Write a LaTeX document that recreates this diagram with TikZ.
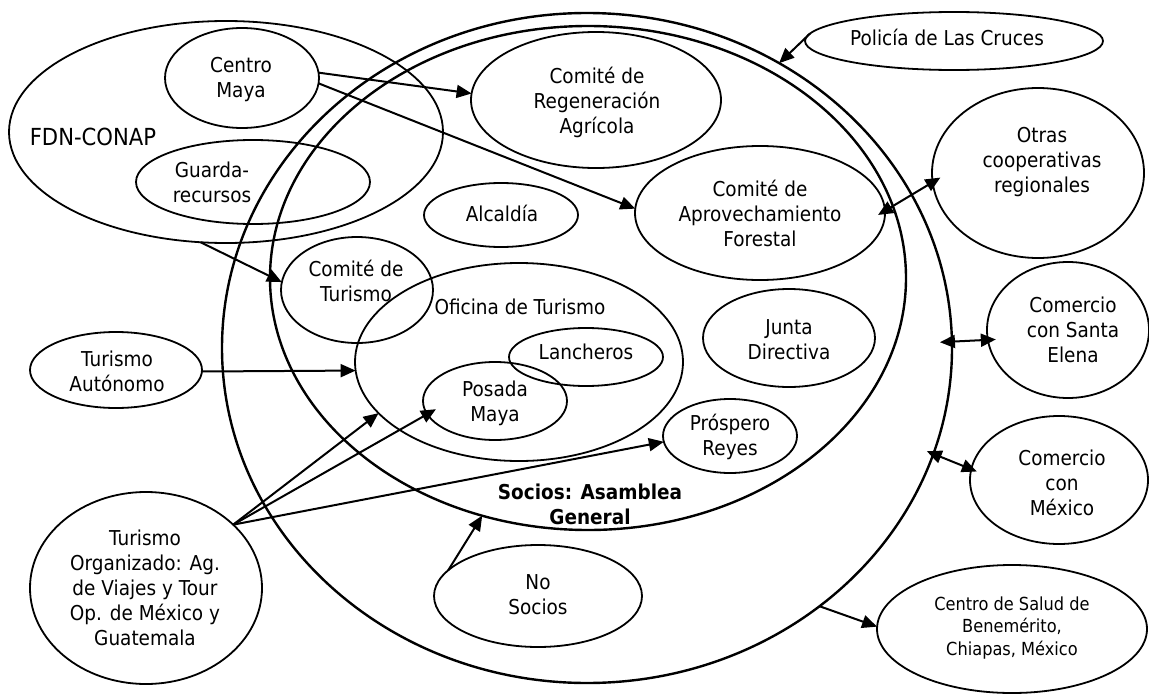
\documentclass[tikz,border=0pt]{standalone}
\usepackage{fontspec}
\setmainfont{DejaVu Sans}[FakeStretch=0.9]
\usetikzlibrary{shapes.geometric,arrows.meta}
\begin{document}
\begin{tikzpicture}[x=1pt,y=-1pt,
  ell/.style={draw,ellipse,line width=1.8pt,inner sep=0pt,outer sep=0pt},
  big/.style={draw,ellipse,line width=2.4pt,inner sep=0pt,outer sep=0pt},
  txt/.style={align=center,inner sep=0pt,font=\fontsize{20.5}{25}\selectfont},
  smalltxt/.style={align=center,inner sep=0pt,font=\fontsize{18}{22.5}\selectfont},
  largetxt/.style={align=center,inner sep=0pt,font=\fontsize{23.5}{28}\selectfont},
  arr/.style={-{Triangle[length=15pt,width=13pt]},line width=2pt},
  darr/.style={{Triangle[length=15pt,width=13pt]}-{Triangle[length=15pt,width=13pt]},line width=2pt}]
\useasboundingbox (0,0) rectangle (1149,696);

% ellipses
\node[big,minimum width=730pt,minimum height=670pt] (outer) at (587,348) {};
\node[big,minimum width=636pt,minimum height=504pt] (inner) at (588,278) {};
\node[ell,minimum width=434pt,minimum height=222pt] (fdn) at (226,132) {};
\node[ell,minimum width=154pt,minimum height=100pt] (cm) at (242,78) {};
\node[ell,minimum width=234pt,minimum height=84pt] (gr) at (253,182) {};
\node[ell,minimum width=250pt,minimum height=136pt] (reg) at (596,100) {};
\node[ell,minimum width=250pt,minimum height=134pt] (apr) at (760,213) {};
\node[ell,minimum width=154pt,minimum height=64pt] (alc) at (501,215) {};
\node[ell,minimum width=298pt,minimum height=58pt] (pol) at (954,41) {};
\node[ell,minimum width=212pt,minimum height=170pt] (otr) at (1038,173) {};
\node[ell,minimum width=162pt,minimum height=136pt] (cse) at (1068,330) {};
\node[ell,minimum width=178pt,minimum height=128pt] (cmx) at (1059,480) {};
\node[ell,minimum width=270pt,minimum height=128pt] (csal) at (1012,629) {};
\node[ell,minimum width=232pt,minimum height=192pt] (torg) at (146,588) {};
\node[ell,minimum width=172pt,minimum height=76pt] (taut) at (116,370) {};
\node[ell,minimum width=152pt,minimum height=106pt] (ctur) at (357,290) {};
\node[ell,minimum width=328pt,minimum height=198pt] (ofi) at (519,362) {};
\node[ell,minimum width=154pt,minimum height=58pt] (lan) at (586,357) {};
\node[ell,minimum width=144pt,minimum height=78pt] (pos) at (495,401) {};
\node[ell,minimum width=172pt,minimum height=98pt] (jd) at (789,338) {};
\node[ell,minimum width=134pt,minimum height=74pt] (pr) at (730,436) {};
\node[ell,minimum width=208pt,minimum height=102pt] (ns) at (538,596) {};

% texts
\node[largetxt] (tfdn) at (93,137) {FDN-CONAP};
\node[txt] (tcm) at (241,80) {Centro\\Maya};
\node[txt] (tgr) at (212,182) {Guarda-\\recursos};
\node[txt] (treg) at (597,102) {Comité de\\Regeneración\\Agrícola};
\node[txt] (tapr) at (760,213) {Comité de\\Aprovechamiento\\Forestal};
\node[txt] (talc) at (502,213) {Alcaldía};
\node[txt] (tpol) at (947,37) {Policía de Las Cruces};
\node[txt] (totr) at (1042,162) {Otras\\cooperativas\\regionales};
\node[txt] (tcse) at (1073,330) {Comercio\\con Santa\\Elena};
\node[txt] (tcmx) at (1062,483) {Comercio\\con\\México};
\node[smalltxt] (tcsal) at (1012,628) {Centro de Salud de\\Benemérito,\\Chiapas, México};
\node[txt] (ttorg) at (145,588) {Turismo\\Organizado: Ag.\\de Viajes y Tour\\Op. de México y\\Guatemala};
\node[txt] (ttaut) at (117,371) {Turismo\\Autónomo};
\node[txt] (tctur) at (356,281) {Comité de\\Turismo};
\node[txt] (tofi) at (520,307) {Oficina de Turismo};
\node[txt] (tlan) at (586,352) {Lancheros};
\node[txt] (tpos) at (495,403) {Posada\\Maya};
\node[txt] (tjd) at (789,340) {Junta\\Directiva};
\node[txt] (tpr) at (730,437) {Próspero\\Reyes};
\node[txt,font=\fontsize{20.5}{25}\selectfont\bfseries] (tsoc) at (590,504) {Socios: Asamblea\\General};
\node[txt] (tns) at (538,595) {No\\Socios};

% connectors
\draw[arr] (cm.4) -- (reg.177.7);
\draw[arr] (cm.-4) -- (apr.178.6);
\draw[arr] (fdn.-103) -- (ctur.174);
\draw[arr] (taut.-1) -- (ofi.183.5);
\draw[arr] (torg.36) -- (ofi.200);
\draw[arr,shorten >=-10pt] (torg.36) -- (pos.191.7);
\draw[arr] (torg.36) -- (pr.185);
\draw[arr] (ns.164) -- (inner.246.8);
\draw[arr] (pol.177) -- (outer.56);
\draw[darr,shorten <=-9pt,shorten >=-8pt] (otr.185.4) -- (apr.1.5);
\draw[darr,shorten <=-12pt,shorten >=-8pt] (outer.1.5) -- (cse.187);
\draw[darr,shorten <=-7pt,shorten >=-6pt] (outer.-17.9) -- (cmx.173);
\draw[arr] (outer.-48) -- (csal.179);
\end{tikzpicture}
\end{document}
